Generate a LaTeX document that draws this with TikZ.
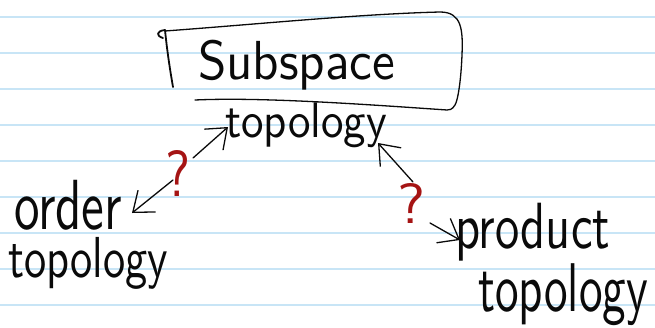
\documentclass[tikz,border=0pt]{standalone}
\usetikzlibrary{arrows.meta}
\usepackage{graphicx}
\definecolor{ruled}{RGB}{200,229,246}
\definecolor{ink}{RGB}{10,10,10}
\definecolor{redink}{RGB}{165,20,20}
\tikzset{
  ruleline/.style={draw=ruled, line width=1.6pt},
  handtext/.style={inner sep=0pt, outer sep=0pt, anchor=north west, text=ink},
  qmark/.style={inner sep=0pt, outer sep=0pt, anchor=north west, text=redink},
  pen/.style={draw=ink, line width=1.3pt, line cap=round, line join=round},
  handarrow/.style={pen, -{Straight Barb[length=18pt,width=28pt,line width=1.3pt]}}
}
\begin{document}
\begin{tikzpicture}[x=1pt,y=-1pt]
\useasboundingbox (0,0) rectangle (655,327);
\fill[white] (0,0) rectangle (655,327);
% ruled paper
\foreach \yy in {17,53,89,125,161,197,233,269,305}
  \draw[ruleline] (0,\yy) -- (655,\yy);
% texts
\node[handtext] (sub) at (198,40) {\resizebox*{197pt}{50pt}{\sffamily Subspace}};
\node[handtext] (subtop) at (225,103) {\resizebox*{162pt}{45pt}{\sffamily topology}};
\node[handtext] (ord) at (8,180) {\vbox{\offinterlineskip
  \hbox{\hspace{6pt}\resizebox*{108pt}{50pt}{\sffamily order}}
  \vskip7pt
  \hbox{\resizebox*{160pt}{52pt}{\sffamily topology}}}};
\node[handtext] (prod) at (455,203) {\resizebox*{155pt}{58pt}{\sffamily product}};
\node[handtext] (prodtop) at (478,264) {\resizebox*{170pt}{62pt}{\sffamily topology}};
\node[qmark] (q1) at (165,150) {\resizebox*{25pt}{46pt}{\sffamily ?}};
\node[qmark] (q2) at (397,183) {\resizebox*{28pt}{40pt}{\sffamily ?}};
% box around the subspace topology
\draw[pen, line width=1.8pt] (163,38) .. controls (156,36) and (156,31) .. (165,30)
  .. controls (167,50) and (170,70) .. (173,87);
\draw[pen] (165,31) .. controls (260,24) and (360,14) .. (440,12)
  .. controls (462,12) and (463,30) .. (462,55)
  .. controls (461,80) and (458,100) .. (455,105)
  .. controls (452,110) and (449,110) .. (447,110)
  .. controls (360,104) and (260,97) .. (195,100);
% connectors
\coordinate (a1s) at (193,158);
\coordinate (a1e) at (228,127);
\coordinate (a2s) at (173,180);
\coordinate (a2e) at (132,213);
\coordinate (a3s) at (413,182);
\coordinate (a3e) at (378,143);
\coordinate (a4s) at (430,223);
\coordinate (a4e) at (460,240);
\draw[handarrow] (a1s) -- (a1e);
\draw[handarrow] (a2s) -- (a2e);
\draw[handarrow] (a3s) -- (a3e);
\draw[handarrow] (a4s) -- (a4e);
\end{tikzpicture}
\end{document}
